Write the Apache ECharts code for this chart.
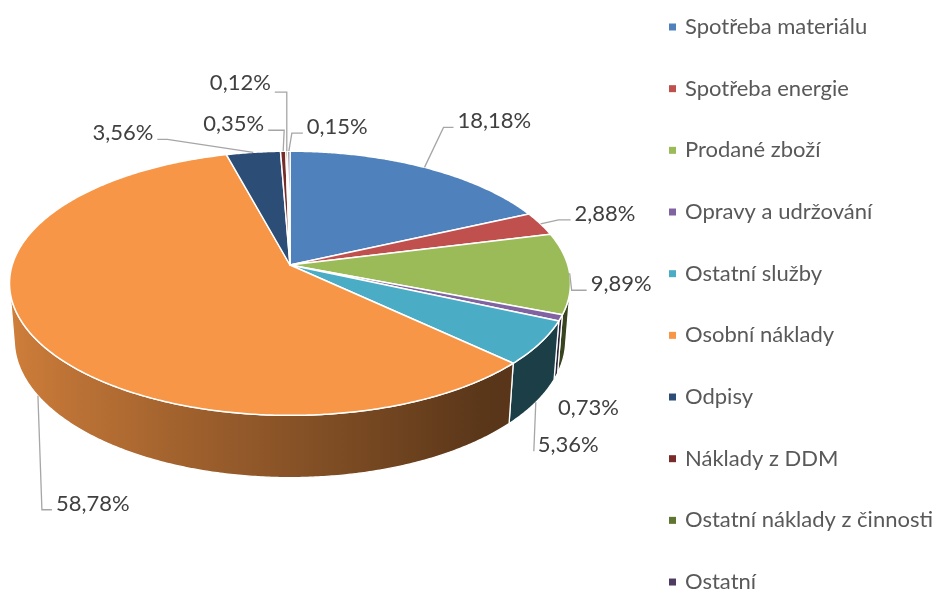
<!DOCTYPE html>
<html><head><meta charset="utf-8">
<script src="https://cdn.jsdelivr.net/npm/echarts@6/dist/echarts.min.js"></script>
<style>html,body{margin:0;padding:0;background:#fff}#c{width:934px;height:590px}</style>
</head><body><div id="c"></div>
<script>
// ---------- DATA ----------
const categories = ['Spotřeba materiálu','Spotřeba energie','Prodané zboží','Opravy a udržování','Ostatní služby','Osobní náklady','Odpisy','Náklady z DDM','Ostatní náklady z činnosti','Ostatní'];
const values = [18.18, 2.88, 9.89, 0.73, 5.36, 58.78, 3.56, 0.35, 0.12, 0.15];
const colors = ['#4F81BD','#C0504D','#9BBB59','#8064A2','#4BACC6','#F79646','#2C4D75','#772C2A','#5F7530','#4D3B62'];

// ---------- LAYOUT (3D projection + label leader hints) ----------
const CX = 290, CY = 265, FOCAL = 1775, DIST = 6.39, ELEV = 27.8 * Math.PI / 180, THICK = 0.233;
const SIN_E = Math.sin(ELEV), COS_E = Math.cos(ELEV);
// anchor: 't' top rim / 'b' bottom rim at slice mid-angle; e: elbow offset; t: horizontal tail
const labelLayout = [
  {a:'t', e:[19,-40], t:10},
  {a:'t', e:[18,-4], t:12},
  {a:'t', e:[2,17], t:15},
  {a:'b', e:[2,32], t:0, noLine:true},
  {a:'b', e:[-2,49], t:0},
  {a:'b', e:[4,114], t:10},
  {a:'t', e:[-86,-13], t:-10},
  {a:'t', e:[1,-21], t:-16},
  {a:'t', e:[0,-59], t:-12, dy:-9},
  {a:'t', e:[3,-18], t:11}
];

const total = values.reduce((s, v) => s + v, 0);
const cum = []; { let acc = 0; values.forEach(v => { cum.push(acc); acc += v; }); }

function proj(theta, r, y) {
  const x = r * Math.sin(theta), z = r * Math.cos(theta);
  const Y = y * COS_E + z * SIN_E;
  const depth = DIST + z * COS_E - y * SIN_E;
  return [CX + FOCAL * x / depth, CY - FOCAL * Y / depth];
}
const VIS0 = Math.acos(-1 / (DIST * COS_E));
const VIS1 = 2 * Math.PI - VIS0;

function hexToRgb(h) { const n = parseInt(h.slice(1), 16); return [(n >> 16) & 255, (n >> 8) & 255, n & 255]; }
function shade(hex, f) { const c = hexToRgb(hex); return 'rgb(' + c.map(v => Math.round(Math.min(255, v * f))).join(',') + ')'; }
function shadeFactor(theta) { return Math.max(0.36, Math.min(0.9, 0.55 - 0.3 * Math.sin(theta))); }
function fmt(v) { return v.toFixed(2).replace('.', ',') + '%'; }

function arcPts(a0, a1, y) {
  const n = Math.max(2, Math.ceil((a1 - a0) / (Math.PI / 360)));
  const pts = [];
  for (let k = 0; k <= n; k++) pts.push(proj(a0 + (a1 - a0) * k / n, 1, y));
  return pts;
}

function renderItem(params, api) {
  const i = params.dataIndex;
  const v = api.value(1);
  const a0 = cum[i] / total * 2 * Math.PI, a1 = (cum[i] + v) / total * 2 * Math.PI;
  const color = colors[i];
  const children = [];

  // side wall (visible front part)
  const s0 = Math.max(a0, VIS0), s1 = Math.min(a1, VIS1);
  if (s1 > s0) {
    const top = arcPts(s0, s1, 0);
    const bot = arcPts(s0, s1, -THICK).reverse();
    const pts = top.concat(bot);
    const xs = top.map(p => p[0]);
    const xmin = Math.min.apply(null, xs), xmax = Math.max.apply(null, xs);
    let fill;
    if (xmax - xmin < 1) {
      fill = shade(color, shadeFactor((s0 + s1) / 2));
    } else {
      const stops = [];
      const n = 24;
      for (let k = 0; k <= n; k++) {
        const th = s0 + (s1 - s0) * k / n;
        const p = proj(th, 1, 0);
        stops.push({offset: Math.max(0, Math.min(1, (p[0] - xmin) / (xmax - xmin))), color: shade(color, shadeFactor(th))});
      }
      stops.sort((a, b) => a.offset - b.offset);
      fill = new echarts.graphic.LinearGradient(xmin, 0, xmax, 0, stops, true);
    }
    children.push({type:'polygon', z2:1, shape:{points:pts}, style:{fill:fill, stroke:'#fff', lineWidth:1.3, lineJoin:'round'}});
  }

  // top face
  const topPts = [proj(0, 0, 0)].concat(arcPts(a0, a1, 0));
  children.push({type:'polygon', z2:2, shape:{points:topPts}, style:{fill:color, stroke:'#fff', lineWidth:1.5, lineJoin:'round'}});

  // label + leader
  const L = labelLayout[i];
  const am = (a0 + a1) / 2;
  const anchor = proj(am, 1, L.a === 'b' ? -THICK : 0);
  const elbow = [anchor[0] + L.e[0], anchor[1] + L.e[1]];
  const end = [elbow[0] + L.t, elbow[1]];
  let tx, ty, align;
  if (L.noLine) {
    tx = elbow[0]; ty = elbow[1]; align = 'left';
  } else {
    const line = L.t === 0 ? [anchor, elbow] : [anchor, elbow, end];
    children.push({type:'polyline', z2:3, shape:{points:line}, style:{stroke:'#A6A6A6', lineWidth:1.3, fill:null}});
    if (L.t >= 0) { tx = end[0] + 4; align = 'left'; } else { tx = end[0] - 4; align = 'right'; }
    ty = end[1] + (L.dy != null ? L.dy : -6);
  }
  children.push({type:'text', z2:4, x:tx, y:ty, style:{text:fmt(v), fill:'#404040', fontSize:22, fontFamily:'Lato', align:align, verticalAlign:'middle'}});

  return {type:'group', children:children};
}

const chart = echarts.init(document.getElementById('c'), null, {renderer:'canvas'});
chart.setOption({
  backgroundColor:'#ffffff',
  animation:false,
  color: colors,
  legend:{
    orient:'vertical', left:669, top:16, height:700, padding:0,
    itemWidth:7, itemHeight:7, icon:'rect', itemGap:39.67,
    selectedMode:false,
    data: categories,
    textStyle:{fontFamily:'Lato', fontSize:22, color:'#595959', lineHeight:22, padding:[0,0,0,4]}
  },
  series:[
    {
      type:'pie', radius:[0,0], center:[CX, CY], silent:true,
      label:{show:false}, labelLine:{show:false}, emphasis:{disabled:true},
      data: categories.map((c, i) => ({name:c, value:values[i]}))
    },
    {
      type:'custom', coordinateSystem:'none', silent:true,
      renderItem: renderItem,
      data: values.map((v, i) => [i, v])
    }
  ]
});
</script>
</body></html>
